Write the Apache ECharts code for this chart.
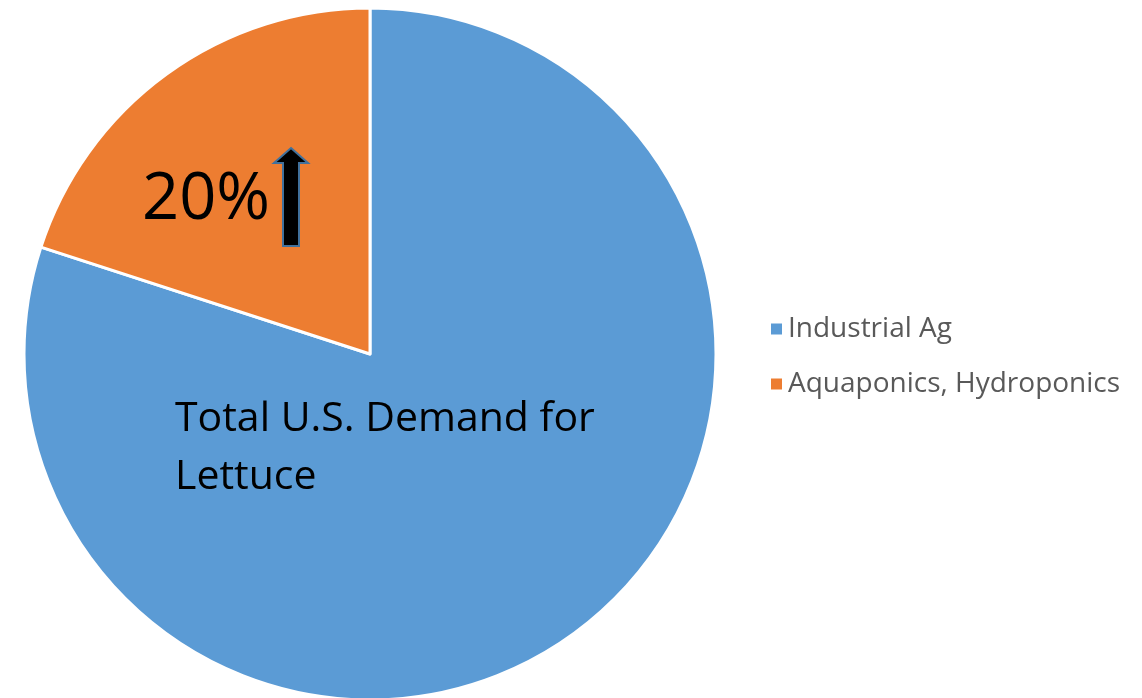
<!DOCTYPE html>
<html>
<head>
<meta charset="utf-8">
<script src="https://cdn.jsdelivr.net/npm/echarts@6/dist/echarts.min.js"></script>
<style>
  html, body { margin: 0; padding: 0; background: #fff; }
  #chart { width: 1142px; height: 698px; }
</style>
</head>
<body>
<div id="chart"></div>
<script>
// Share of U.S. lettuce demand by production method
const categories = ['Industrial Ag', 'Aquaponics, Hydroponics'];
const shares = [80, 20];
const colors = ['#5B9BD5', '#ED7D31'];

const FONT = '"Open Sans", sans-serif';
const total = shares.reduce((a, b) => a + b, 0);
const soillessPct = Math.round(shares[1] / total * 100);

const chart = echarts.init(document.getElementById('chart'), null, { renderer: 'canvas' });

chart.setOption({
  animation: false,
  backgroundColor: '#ffffff',
  color: colors,
  legend: {
    orient: 'vertical',
    left: 764,
    top: 310,
    icon: 'rect',
    itemWidth: 13,
    itemHeight: 13,
    itemGap: 27,
    selectedMode: false,
    textStyle: { fontFamily: FONT, fontSize: 28, color: '#595959', padding: [0, 0, 0, 0] },
    data: categories
  },
  series: [{
    type: 'pie',
    center: [370, 354],
    radius: 346,
    startAngle: 90,
    clockwise: true,
    silent: true,
    label: { show: false },
    labelLine: { show: false },
    itemStyle: { borderColor: '#ffffff', borderWidth: 3 },
    data: categories.map((name, i) => ({ name, value: shares[i] }))
  }],
  graphic: [
    {
      type: 'text',
      z: 100,
      left: 142,
      top: 168,
      style: { text: soillessPct + '%', font: '65px ' + FONT, fill: '#000000' }
    },
    {
      type: 'polygon',
      z: 100,
      shape: {
        points: [[291, 148], [308, 163], [299, 163], [299, 246], [283, 246], [283, 163], [274, 163]]
      },
      style: { fill: '#000000', stroke: '#41719C', lineWidth: 2 }
    },
    {
      type: 'text',
      z: 100,
      left: 175,
      top: 390,
      style: {
        text: 'Total U.S. Demand for\nLettuce',
        font: '41px ' + FONT,
        lineHeight: 58,
        fill: '#000000'
      }
    }
  ]
});
</script>
</body>
</html>
